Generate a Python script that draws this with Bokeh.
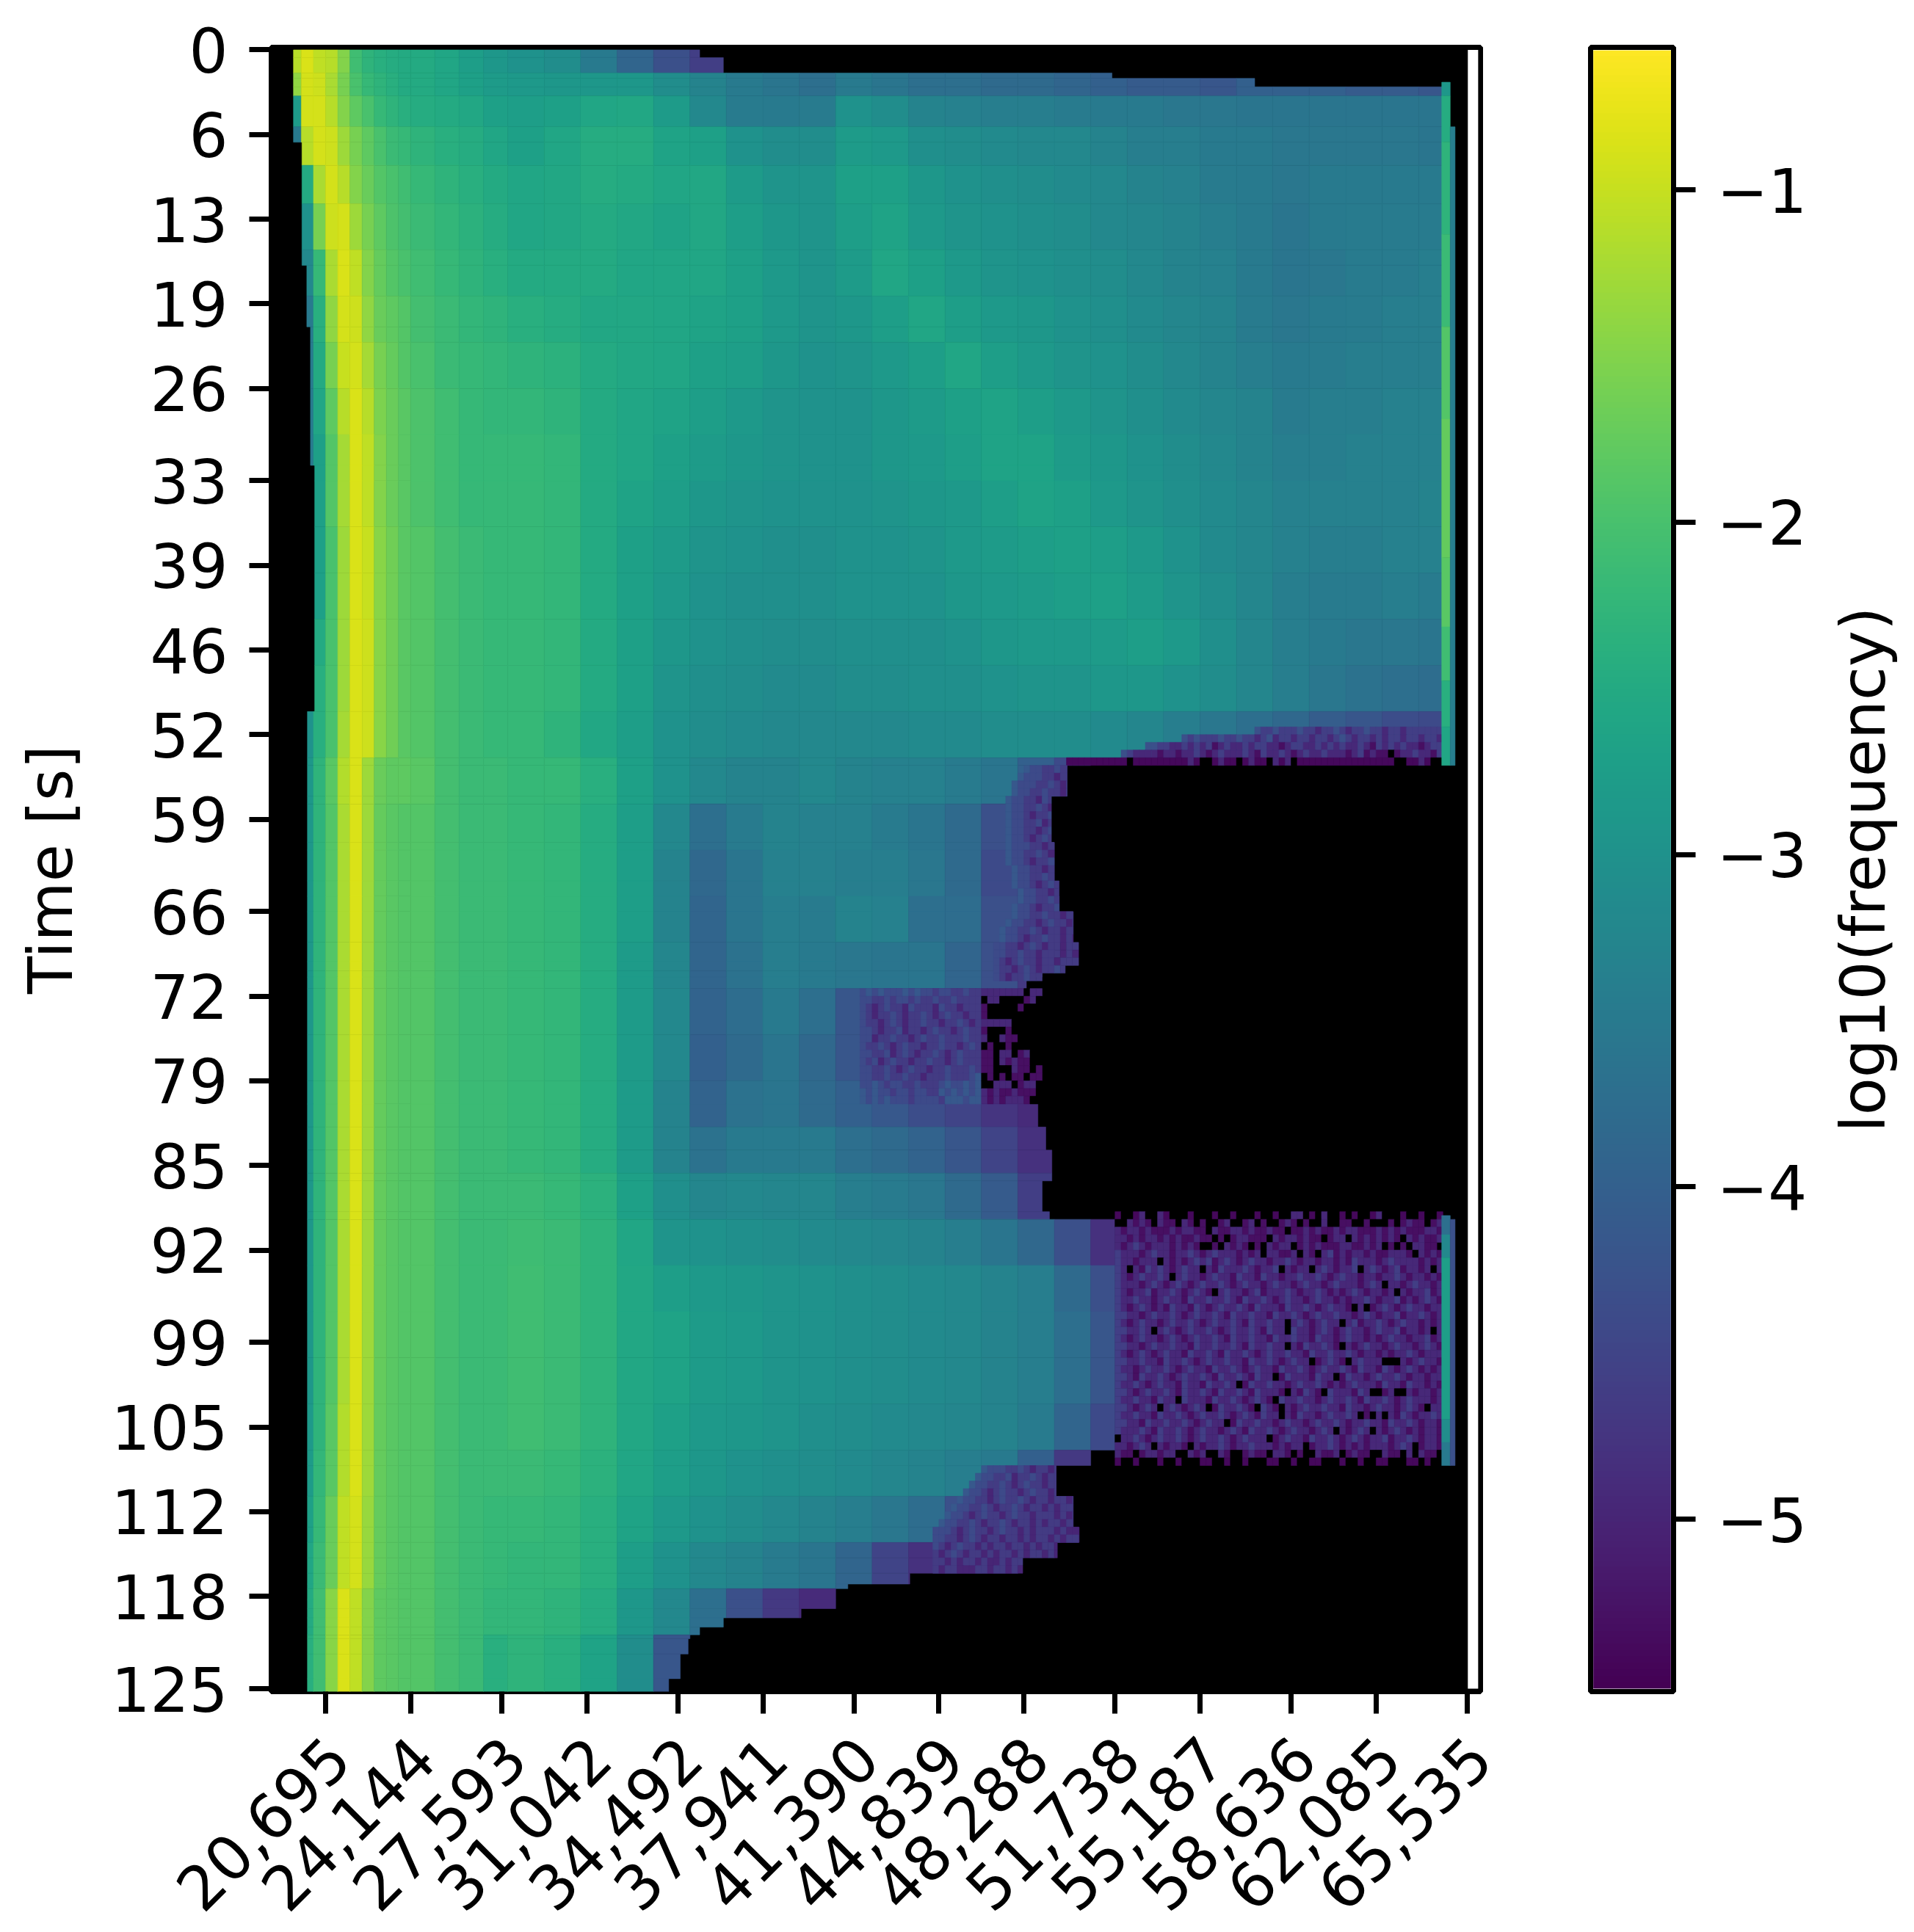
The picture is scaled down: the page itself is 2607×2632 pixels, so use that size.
import math
import numpy as np
from bokeh.plotting import figure
from bokeh.layouts import row
from bokeh.models import Range1d, FixedTicker, LinearColorMapper, ColumnDataSource, LinearAxis
from bokeh.palettes import Viridis256
from bokeh.embed import file_html
from bokeh.resources import INLINE

x_ticks = [0, 14, 29, 43, 58, 72, 87, 101, 115, 130, 144, 159, 173, 188]
x_labels = ["20,695", "24,144", "27,593", "31,042", "34,492", "37,941", "41,390", "44,839",
            "48,288", "51,738", "55,187", "58,636", "62,085", "65,535"]
y_ticks = [0, 11, 22, 33, 44, 56, 67, 78, 89, 100, 112, 123, 134, 145, 156, 168, 179, 190, 201, 213]
y_labels = ["0", "6", "13", "19", "26", "33", "39", "46", "52", "59", "66", "72", "79", "85", "92",
            "99", "105", "112", "118", "125"]
cbar_ticks = [-5, -4, -3, -2, -1]
cbar_labels = ["\u22125", "\u22124", "\u22123", "\u22122", "\u22121"]

col_edges = [-6, -4, -2, 0, 2, 4, 6, 8, 10, 12, 14, 18, 22, 26, 30, 36, 42, 48, 54, 60, 66, 72, 78, 84, 90, 96,
             102, 108, 114, 120, 126, 132, 138, 144, 150, 156, 162, 168, 174, 180, 184]
row_edges = [0, 3, 6, 10, 15, 20, 26, 32, 38, 44, 50, 56, 62, 68, 74, 80, 86, 92, 98, 104, 110, 116, 122, 128,
             134, 140, 146, 152, 158, 164, 170, 176, 182, 188, 194, 200, 206, 214]

log_freq = [
 [-1.1,-0.85,-1.05,-1.1,-1.5,-2.1,-2.3,-2.4,-2.45,-2.5,-2.5,-2.6,-2.75,-2.9,-3.0,-3.1,-3.5,-3.9,-4.3,-4.6],
 [-1.4,-0.9,-0.95,-1.2,-1.6,-2.0,-2.2,-2.3,-2.4,-2.5,-2.5,-2.6,-2.7,-2.8,-2.85,-2.9,-2.9,-2.9,-3.1,-3.3,-3.5,-3.6,-3.7,-3.5,-3.6,-3.7,-3.7,-3.8,-3.8,-3.9,-4.0,-4.1,-4.1,-4.2,-4.0,-4.0,-4.0,-4.1,-4.1,-4.2],
 [-2.8,-0.9,-0.9,-1.1,-1.5,-1.8,-2.0,-2.2,-2.3,-2.4,-2.45,-2.5,-2.55,-2.7,-2.75,-2.7,-2.6,-2.55,-2.8,-3.2,-3.45,-3.5,-3.45,-3.0,-3.1,-3.3,-3.35,-3.4,-3.4,-3.45,-3.5,-3.5,-3.55,-3.55,-3.6,-3.6,-3.6,-3.6,-3.6,-3.6],
 [-3.5,-1.1,-0.9,-0.95,-1.3,-1.6,-1.8,-2.0,-2.15,-2.2,-2.3,-2.4,-2.45,-2.6,-2.7,-2.6,-2.45,-2.45,-2.65,-2.7,-3.0,-3.1,-3.1,-2.8,-2.85,-3.05,-3.1,-3.15,-3.2,-3.2,-3.3,-3.4,-3.4,-3.5,-3.5,-3.55,-3.55,-3.55,-3.55,-3.6],
 [-3.5,-2.5,-1.2,-0.9,-1.1,-1.5,-1.7,-1.9,-2.0,-2.1,-2.2,-2.3,-2.4,-2.5,-2.6,-2.55,-2.45,-2.5,-2.6,-2.55,-2.8,-2.95,-2.95,-2.7,-2.7,-2.9,-3.0,-3.05,-3.1,-3.15,-3.2,-3.3,-3.35,-3.45,-3.5,-3.55,-3.5,-3.5,-3.5,-3.5],
 [-3.5,-3.0,-1.6,-0.95,-0.9,-1.3,-1.6,-1.8,-1.95,-2.05,-2.15,-2.25,-2.35,-2.45,-2.6,-2.55,-2.5,-2.55,-2.65,-2.55,-2.75,-2.9,-2.95,-2.75,-2.65,-2.85,-2.95,-3.0,-3.05,-3.1,-3.2,-3.25,-3.3,-3.4,-3.5,-3.6,-3.5,-3.45,-3.45,-3.45],
 [-3.5,-3.2,-2.2,-1.2,-0.85,-1.05,-1.5,-1.75,-1.9,-2.0,-2.1,-2.2,-2.3,-2.4,-2.5,-2.5,-2.5,-2.6,-2.6,-2.6,-2.7,-2.85,-2.95,-2.8,-2.6,-2.7,-2.85,-2.95,-3.0,-3.05,-3.1,-3.2,-3.3,-3.35,-3.5,-3.6,-3.55,-3.45,-3.45,-3.4],
 [-3.5,-3.5,-2.4,-1.4,-0.9,-0.95,-1.4,-1.7,-1.8,-1.9,-2.05,-2.15,-2.25,-2.3,-2.4,-2.45,-2.55,-2.55,-2.6,-2.65,-2.7,-2.85,-2.95,-2.9,-2.75,-2.6,-2.75,-2.85,-2.9,-3.0,-3.05,-3.15,-3.25,-3.3,-3.45,-3.55,-3.5,-3.45,-3.4,-3.4],
 [-3.5,-3.5,-2.5,-1.6,-1.0,-0.9,-1.25,-1.6,-1.75,-1.9,-2.0,-2.15,-2.2,-2.25,-2.3,-2.35,-2.5,-2.55,-2.6,-2.7,-2.75,-2.9,-3.0,-2.95,-2.85,-2.75,-2.6,-2.75,-2.85,-2.95,-3.0,-3.1,-3.2,-3.3,-3.4,-3.5,-3.45,-3.4,-3.4,-3.4],
 [-3.5,-3.5,-2.6,-1.8,-1.1,-0.85,-1.1,-1.55,-1.7,-1.85,-1.95,-2.1,-2.2,-2.25,-2.25,-2.3,-2.5,-2.6,-2.65,-2.75,-2.85,-2.95,-3.0,-3.0,-2.9,-2.8,-2.7,-2.65,-2.75,-2.85,-2.95,-3.05,-3.15,-3.25,-3.3,-3.45,-3.4,-3.4,-3.35,-3.35],
 [-3.5,-3.5,-2.7,-1.9,-1.25,-0.85,-1.05,-1.5,-1.7,-1.85,-1.95,-2.1,-2.2,-2.2,-2.2,-2.25,-2.5,-2.6,-2.7,-2.8,-2.9,-2.95,-3.0,-3.0,-2.9,-2.85,-2.75,-2.65,-2.65,-2.8,-2.9,-3.0,-3.1,-3.2,-3.3,-3.4,-3.4,-3.35,-3.35,-3.35],
 [-3.5,-3.5,-2.7,-1.9,-1.25,-0.85,-1.05,-1.5,-1.7,-1.85,-1.95,-2.1,-2.2,-2.2,-2.2,-2.25,-2.5,-2.65,-2.75,-2.9,-2.95,-3.0,-3.0,-3.0,-2.95,-2.9,-2.85,-2.75,-2.65,-2.7,-2.85,-2.95,-3.05,-3.15,-3.25,-3.35,-3.35,-3.35,-3.35,-3.3],
 [-3.5,-3.5,-2.7,-2.0,-1.3,-0.85,-1.0,-1.45,-1.65,-1.85,-1.9,-2.05,-2.15,-2.2,-2.2,-2.25,-2.5,-2.7,-2.8,-2.95,-3.0,-3.05,-3.05,-3.0,-3.0,-2.95,-2.85,-2.8,-2.75,-2.7,-2.75,-2.85,-3.0,-3.15,-3.25,-3.35,-3.4,-3.4,-3.35,-3.35],
 [-3.5,-3.5,-2.7,-2.0,-1.3,-0.85,-1.0,-1.45,-1.65,-1.85,-1.9,-2.05,-2.15,-2.2,-2.2,-2.25,-2.5,-2.7,-2.85,-3.0,-3.05,-3.05,-3.05,-3.0,-3.0,-3.0,-2.9,-2.85,-2.8,-2.75,-2.7,-2.8,-2.95,-3.1,-3.25,-3.4,-3.45,-3.45,-3.4,-3.45],
 [-3.5,-3.5,-2.5,-2.0,-1.3,-0.85,-0.95,-1.45,-1.65,-1.85,-1.9,-2.05,-2.15,-2.2,-2.2,-2.25,-2.5,-2.7,-2.9,-3.0,-3.05,-3.1,-3.1,-3.05,-3.05,-3.05,-3.0,-2.9,-2.85,-2.85,-2.8,-2.75,-2.85,-3.05,-3.25,-3.4,-3.5,-3.55,-3.55,-3.6],
 [-3.5,-3.5,-2.4,-2.0,-1.3,-0.85,-0.95,-1.45,-1.65,-1.85,-1.9,-2.05,-2.15,-2.2,-2.2,-2.25,-2.5,-2.7,-2.95,-3.05,-3.1,-3.15,-3.15,-3.1,-3.1,-3.05,-3.05,-3.0,-2.95,-2.95,-2.9,-2.9,-3.0,-3.1,-3.25,-3.4,-3.55,-3.65,-3.7,-3.75],
 [-3.5,-3.0,-2.4,-2.0,-1.25,-0.85,-0.95,-1.45,-1.65,-1.85,-1.9,-2.05,-2.15,-2.2,-2.2,-2.3,-2.55,-2.75,-3.0,-3.1,-3.15,-3.2,-3.2,-3.2,-3.2,-3.15,-3.15,-3.1,-3.1,-3.1,-3.15,-3.25,-3.4,-3.55,-3.7,-3.85,-4.05,-4.2,-4.35,-4.4],
 [-3.0,-2.9,-2.3,-1.85,-1.15,-0.85,-1.3,-1.7,-1.8,-1.8,-1.85,-2.05,-2.15,-2.15,-2.2,-2.2,-2.4,-2.7,-3.0,-3.2,-3.3,-3.3,-3.2,-3.3,-3.35,-3.35,-3.45,-3.6,-4.0,-4.4],
 [-3.0,-2.9,-2.3,-1.9,-1.2,-0.85,-1.3,-1.75,-1.85,-1.9,-1.9,-2.05,-2.15,-2.15,-2.2,-2.25,-2.45,-2.75,-3.2,-3.7,-3.45,-3.3,-3.35,-3.35,-3.45,-3.6,-3.8,-4.3,-4.7],
 [-3.0,-2.9,-2.3,-1.9,-1.2,-0.85,-1.3,-1.75,-1.85,-1.9,-1.9,-2.05,-2.15,-2.15,-2.2,-2.25,-2.45,-2.75,-3.3,-3.85,-3.6,-3.35,-3.35,-3.4,-3.4,-3.55,-3.8,-4.4,-4.75],
 [-3.0,-2.9,-2.3,-1.9,-1.2,-0.85,-1.3,-1.75,-1.85,-1.9,-1.9,-2.05,-2.15,-2.15,-2.2,-2.25,-2.45,-2.75,-3.3,-3.9,-3.6,-3.4,-3.45,-3.3,-3.35,-3.7,-3.75,-4.3,-4.6,-4.7],
 [-3.0,-2.9,-2.3,-1.9,-1.2,-0.85,-1.3,-1.75,-1.85,-1.9,-1.9,-2.05,-2.15,-2.15,-2.2,-2.25,-2.45,-2.8,-3.25,-3.9,-3.65,-3.4,-3.5,-3.55,-3.6,-3.6,-3.9,-4.3,-4.7],
 [-3.0,-2.9,-2.3,-1.9,-1.2,-0.85,-1.3,-1.75,-1.85,-1.9,-1.9,-2.05,-2.15,-2.15,-2.2,-2.25,-2.45,-2.8,-3.2,-3.95,-3.75,-3.5,-3.7,-4.2,-4.65,-4.7,-4.8,-4.9,-4.9],
 [-3.0,-2.9,-2.3,-1.9,-1.2,-0.85,-1.3,-1.75,-1.85,-1.9,-1.9,-2.05,-2.15,-2.15,-2.2,-2.25,-2.45,-2.8,-3.2,-4.0,-3.8,-3.6,-3.85,-4.2,-4.6,-4.75,-4.8,-4.9,-4.9],
 [-3.0,-2.9,-2.3,-1.9,-1.2,-0.85,-1.3,-1.75,-1.85,-1.9,-1.9,-2.05,-2.15,-2.15,-2.2,-2.25,-2.45,-2.8,-3.3,-3.95,-3.65,-3.6,-3.8,-4.0,-4.15,-4.35,-4.5,-4.75,-4.9],
 [-3.0,-2.9,-2.3,-1.9,-1.2,-0.85,-1.3,-1.75,-1.85,-1.9,-1.9,-2.05,-2.15,-2.15,-2.2,-2.25,-2.45,-2.8,-3.3,-3.65,-3.5,-3.5,-3.5,-3.7,-3.8,-3.95,-4.2,-4.5,-4.8],
 [-3.0,-2.9,-2.3,-1.9,-1.2,-0.85,-1.3,-1.75,-1.85,-1.9,-1.9,-2.05,-2.15,-2.15,-2.15,-2.2,-2.35,-2.7,-3.05,-3.25,-3.2,-3.25,-3.25,-3.4,-3.45,-3.55,-3.8,-4.1,-4.6,-4.9],
 [-3.0,-2.9,-2.3,-1.9,-1.2,-0.85,-1.3,-1.75,-1.85,-1.9,-1.9,-2.05,-2.15,-2.15,-2.12,-2.15,-2.3,-2.6,-2.95,-3.0,-3.05,-3.1,-3.15,-3.2,-3.25,-3.3,-3.4,-3.6,-3.85,-4.3,-4.8],
 [-3.0,-2.9,-2.3,-1.9,-1.2,-0.85,-1.3,-1.75,-1.85,-1.9,-1.9,-2.05,-2.15,-2.15,-2.1,-2.15,-2.3,-2.55,-2.75,-2.85,-2.9,-2.95,-3.0,-3.05,-3.1,-3.15,-3.2,-3.3,-3.4,-3.8,-4.3],
 [-3.0,-2.9,-2.3,-1.9,-1.2,-0.85,-1.3,-1.75,-1.85,-1.9,-1.9,-2.05,-2.15,-2.15,-2.1,-2.15,-2.3,-2.55,-2.65,-2.8,-2.85,-2.95,-3.0,-3.05,-3.1,-3.15,-3.2,-3.3,-3.4,-3.7,-4.2],
 [-3.0,-2.9,-2.3,-1.9,-1.2,-0.85,-1.3,-1.75,-1.85,-1.9,-1.9,-2.05,-2.15,-2.15,-2.1,-2.15,-2.3,-2.55,-2.65,-2.8,-2.85,-2.95,-3.0,-3.05,-3.1,-3.15,-3.2,-3.3,-3.4,-3.7,-4.2],
 [-3.0,-2.85,-2.3,-1.85,-1.15,-0.85,-1.3,-1.75,-1.85,-1.9,-1.9,-2.05,-2.15,-2.15,-2.1,-2.15,-2.3,-2.55,-2.7,-2.85,-2.9,-2.95,-3.05,-3.1,-3.15,-3.2,-3.25,-3.3,-3.45,-3.9,-4.4],
 [-3.0,-2.8,-2.25,-1.85,-1.15,-0.85,-1.3,-1.75,-1.85,-1.9,-1.9,-2.05,-2.15,-2.15,-2.15,-2.2,-2.35,-2.6,-2.75,-2.9,-3.0,-3.05,-3.1,-3.15,-3.25,-3.3,-3.4,-3.5,-4.0,-4.7],
 [-3.0,-2.7,-2.2,-1.7,-1.05,-0.9,-1.35,-1.75,-1.85,-1.9,-1.9,-2.05,-2.15,-2.2,-2.2,-2.25,-2.4,-2.65,-2.85,-3.0,-3.1,-3.2,-3.3,-3.4,-3.55,-3.75,-4.3,-4.6,-4.75,-5.0],
 [-3.0,-2.6,-2.15,-1.7,-1.05,-0.9,-1.35,-1.75,-1.85,-1.9,-1.9,-2.05,-2.15,-2.2,-2.25,-2.25,-2.4,-2.75,-3.0,-3.2,-3.3,-3.45,-3.6,-3.9,-4.5,-4.8,-4.9,-5.0],
 [-3.0,-2.5,-2.1,-1.45,-0.85,-1.05,-1.5,-1.8,-1.85,-1.9,-1.9,-2.05,-2.15,-2.25,-2.25,-2.3,-2.45,-2.9,-3.2,-3.7,-4.3,-4.7,-4.9],
 [-3.0,-2.4,-2.1,-1.45,-0.85,-1.05,-1.5,-1.8,-1.85,-1.9,-1.9,-2.05,-2.15,-2.4,-2.3,-2.4,-2.65,-3.1,-4.2],
]

left_rows = [0, 12, 28, 36, 54, 86]
left_edge = [-5.3, -3.9, -3.1, -2.5, -1.8, -3.0]
right_rows = [0, 1, 3, 3.7, 4.8, 93, 97, 103, 108, 112, 116, 118.5, 119.7, 120.5, 122, 137, 140, 143, 147,
              151, 152, 184, 188, 192, 194, 196, 198, 199.4, 201.4, 202.6, 203.8, 205, 206.5, 208.5, 211.7]
right_edge = [61.6, 65.5, 129.5, 153, 186, 122.1, 119.5, 120, 120.8, 123.1, 124, 121.8, 118, 115.4, 108, 117.3, 118.6,
              119.6, 118, 119.2, 130, 120.3, 123.1, 124.1, 120.5, 114.8, 96.2, 86, 85.3, 78.3, 65.5, 61.6, 59.7,
              58.4, 56.5]

strip_a_rows = [4.2, 6, 12, 24, 36, 48, 66, 75, 82, 88, 93, 151.5, 154, 157, 178, 181, 184]
strip_a_vals = [-2.9, -2.45, -2.3, -2.15, -1.9, -1.75, -1.85, -2.1, -2.4, -2.6, None, -3.7, -3.2, -2.75, -3.1, -3.5]
strip_b_rows = [10, 93, 152, 184]
strip_b_vals = [-3.4, None, -4.3]

deep_levels = {"d": -4.3, "a": -4.6, "b": -4.95, "c": -5.3, "e": -5.4}
soft_levels = {"d": -4.15, "a": -4.4, "b": -4.65, "c": -5.0}
mottle = [
 "e  eb  be   e   e  e   e  e  bb e b  e e  eb   e  e  e ",
 "  bcbc bcc bc c  cb  cb c  cbc c  b  cc  c   c cbcc cb",
 "bcbbcbcccbcbbcc bccbbcbccbcc ccbcbccbcbbcccbcbcbcccbbc",
 "bbcbcbbcbcbccbcc c cbbccc bcbbcbcc cbb bcbcbcbc bcbccb",
 "bcbabcbbbcbcbc  c bcbc c bcbb cbcbcccbbccbcb c c bbcc",
 "abbbcbabbcbbabcbabbbcbcb bbccb bc bacbcbbcbccbbbc bcbc",
 "abbcbbb bcbcbabacbabcbabbcbbabcbbcbbcbcabbbcbabbbbcbcb",
 "ab bcababcbabb bcabbbabcbba bcbb babcbba babcbacbbcb b",
 "abcbabbab babbcbabbcabbcabbcbbabbabcbabbcbbcbbabcbbcbc",
 "abbbcbabcbabcbabbabcbabbcbabbcbabbcbabbbcbab bbcbabbcb",
 "abcbbacbbabcbabc babbcbacbbbabcbbabcbcbabcbbcb bcbbacb",
 "abbabbcbabbcabbabbabcabbabcbabbcbabbcbcbbabcbbacbcbabc",
 "abcbabcbcabbcabcbabbabcabbbcabbabcbabbc b cbabcbabbcbb",
 "aabbcbabbabcbabbabcabbabbcabbabcbabbabbcbabcbbacbbabcb",
 "abcbabbcbabbabcbabbabcabbabb babcbabb bacbbabcbabbcbcb",
 "aabbab babcbabbabcbabbabcabb abbcbabcbabbcbabbacbbcb b",
 "abcbabbcbabcbabbabcabbabbcabbabbcabbcbabbcbcbabbcbbacb",
 "aabbcbabbabbcabbabbabcabbabb bcabbabc bcbabbcbabbcbabc",
 "abcbabcbabbcabbabcabbabcbabbabbcabbabbabcbbcbcbbabcbbb",
 "aabbabbcabbabcbabbabbcabbabcbabb cbabc babbb   bcbabbc",
 "abbcbabbabcbabbcabbabcbabbcabbabcbabbabcabbcabcbabcbcb",
 "aabcabbabcbabbabcabbabcabb cabbbcabb cabbcbabbabcbbcbb",
 "abbabcbabbcabbcabbab cabbabbcbabbabcbcbabbbcabbcabbcbc",
 "aabcbabbabcabbabcabbabcabbbc bcabc abbbcab  cb  bcbbcb",
 "abbabbcabb abbbcabbabcbabc abbabbcbabbabcabbabcbabbbcb",
 "aabcbab babcbab cabbabc abc bcbabbabbcabbcbabbcbabc bb",
 "abbabbcabbabcbabbabcbabcabb bcabbcbabbab c b bcabcbbab",
 "aabbcabbabbabcbabb cabbabbcbabbcbabbabcbbabbcabbabcbbc",
 "abbbabcabbabcbabbcbabcabbabcbabbcbab bcbab bcbabcbcbbc",
 " bbabcbabbabcbabbabcbabbb cbabbcabbabcbabcbbacbbabcbbc",
 "bbcbab bcbbc bcbbabcbbabbbcbcbb cbbabcbcbcbbbcbab cbbc",
 "bcc cbbcbb  bcb  bc  cbcc bbc c  bccb cbcc  bcc b bcc ",
 "e  e   e  e   ee  e  e   ee  e  ee   e  e  ee   ee e  ",
]
fringe = [
 "_______________________daadaaadaabaadabaadaabaabaaaaaa",
 "___________dadaaadaadaabadbaabaabaabadabaababaabaabaab",
 "_____ddaabbababacbabbabaabbcbaabbabababbabcabababbcbaa",
 "_dabbbbcbbcbbabcbabbbabcabbabcbabbabbbcbacbcc cbbabbca",
]
edge_row = ["eeeeeeeeee eeeeeeeeebe  ebee ebee beb eeeeeeeeeeeeeeee  eebe  eee"]
notch = [
 "bbbbbbb bb",
 " bb    cb ",
 "c     c   ",
 "c         ",
 "bbbbb     ",
 "c   c     ",
 "b  bcc    ",
 " c  c     ",
 "cc bb cb  ",
 "cc bcbcc  ",
 "cc   bcc c",
 " c c cc cc",
 "  bbb cbb ",
 "bcbccbccc ",
 "bcbcbbbc  ",
]
purple_zone = [
 "adadaaadadaabaabbabb",
 "aabbabaababbabbabbbb",
 "abcbabbcabbbcabbcbbb",
 "abcbbabcbbabcbabbcbb",
 "abbcbabcbbabbcbbabcb",
 "aabcbbacbbcbabbcbabb",
 "aacbbabbcbabbabbbabb",
 "abbabcbabbcbbabbcbab",
 "aabbacbabcbbabcbabbb",
 "abacbabbcbbabbcbabbb",
 "aabbabcbabbcbbabbbab",
 "aabbabbabbcbbbabbbad",
 "aadabaabbabbbadaadad",
 "dadaabaabaabbdadadad",
 "dadadaaabaaaabdddadd",
]
upper_edge = [
 "_____daabbabbcb", "____daaabbcbbcb", "___daaabbabcbbb", "___daabbabbcbcb", "__daabbcabbcbbb",
 "__daabbabcbbcbb", "__daabcbbabcbcb", "__daabbacbbcbbb", "__daabbcbabbcbb", "__daabcbabbcbbb",
 "__daaabbcbbabcb", "__daabbabcbbcbb", "__daabcbbabcbcb", "___daabbcbbcbbb", "___daabbabcbcbb",
 "___daabcbabbcbb", "____daabbcbabcb", "____daabbabcbcb", "___daabcbbabcbc", "___daabbabbcbbb",
 "__daabbcbabbcbc", "_daabbabcbbcbbb", "_daabcbbabbcbcb", "aabbcbabcbbcbbb", "aabbabbcbbbcbcb",
 "abcbabbcbbcbbbb", "abbcbabcbbabcbb", "abcbbabbcbbccbb",
]
lower_edge = [
 "________daaabbabcbbcbbcb", "_______daabbacbbabcbbcbc", "______daabbabcbabbcbbbcb", "_____daabcbabbcbabbcbcbb",
 "____daabbcbabbabcbbcbbcb", "___daabbabcbbabcbbcbcbbb", "__daabcbabbcbabbcbbbcbcb", "_daabbabcbbabcbbcbcbbcbb",
 "aaabcbabbcbabbcbcbbbcbcc", "aabbcbabcbbcbbcbcbbcbcbb", "abcbabbcbcbbcbbcbcbbcbcc", "bcbabcbbcbcbbcbcbbcbcbbb",
 "bbcbcbbcbccbcbbcbcbccbbb", "bcbbcccbbcbbcbcbcc  cbb ", "cb cbcb c  cb  c cb  c  ",
]

mask_blocks = [
 (mottle, 130, 151, False, deep_levels), (fringe, 130, 88, False, deep_levels), (edge_row, 122, 92, False, deep_levels),
 (purple_zone, 88, 122, False, soft_levels), (notch, 108, 122, False, deep_levels),
 (upper_edge, 110, 93, True, soft_levels), (lower_edge, 100, 184, True, soft_levels),
]

cbar_low, cbar_high = -5.51, -0.58
mapper = LinearColorMapper(palette=Viridis256, low=cbar_low, high=cbar_high, nan_color="black")


def step(rows, vals, r):
    out = vals[0]
    for a, b in zip(rows, vals):
        if r >= a:
            out = b
    return out


cuts = sorted(set(row_edges) | set(left_rows) | set(right_rows))
q = dict(l=[], r=[], t=[], b=[], v=[])


def add(l, r, t, b, v):
    q["l"].append(l); q["r"].append(r); q["t"].append(t); q["b"].append(b); q["v"].append(v)


for top, bot in zip(cuts[:-1], cuts[1:]):
    band = step(row_edges[:-1], log_freq, top)
    le = step(left_rows, left_edge, top)
    re = step(right_rows, right_edge, top)
    for i, val in enumerate(band):
        x0, x1 = max(col_edges[i], le), min(col_edges[i + 1], re)
        if x1 > x0:
            add(x0, x1, top, bot, val)

for block, c0, r0, clip, levels in mask_blocks:
    for j, text in enumerate(block):
        limit = step(right_rows, right_edge, r0 + j) if clip else 184
        for i, ch in enumerate(text):
            x0, x1 = c0 + i, min(c0 + i + 1, limit, 184)
            if ch == "_" or x1 <= x0:
                continue
            add(x0, x1, r0 + j, r0 + j + 1, levels.get(ch, float("nan")))

for x0, x1, rows, vals in ((183.8, 185.2, strip_a_rows, strip_a_vals), (185.2, 186.0, strip_b_rows, strip_b_vals)):
    for a, b, v in zip(rows[:-1], rows[1:], vals):
        if v is not None:
            add(x0, x1, a, b, v)

frame_l, frame_t, frame_w, frame_h = 369, 64, 1647, 2240
page_h = 2624
p = figure(width=2100, height=page_h, frame_width=frame_w, frame_height=frame_h,
           x_range=Range1d(-8.95, 190.18), y_range=Range1d(213.38, -0.33),
           output_backend="svg", toolbar_location=None, tools="",
           min_border_left=frame_l, min_border_top=frame_t, min_border_right=84, min_border_bottom=page_h - 64 - 2240,
           background_fill_color="black", outline_line_color="black", outline_line_width=7, outline_line_alpha=1)
p.grid.visible = False
src = ColumnDataSource(q)
col = {"field": "v", "transform": mapper}
p.quad(left="l", right="r", top="t", bottom="b", source=src, fill_color=col, line_color=col, line_width=0.6)
p.quad(left=[x_ticks[-1] + 0.1], right=[189.8], top=[0], bottom=[y_ticks[-1]], fill_color="white", line_color="white", line_width=0)


def style(ax):
    ax.axis_line_color = None
    ax.major_tick_line_color = "black"
    ax.major_tick_line_width = 7
    ax.major_tick_in = 0
    ax.major_tick_out = 30
    ax.minor_tick_line_color = None
    ax.major_label_text_font = "DejaVu Sans"
    ax.major_label_text_font_size = "83.33px"
    ax.major_label_text_color = "black"
    ax.axis_label_text_font = "DejaVu Sans"
    ax.axis_label_text_font_size = "83.33px"
    ax.axis_label_text_font_style = "normal"
    ax.axis_label_text_color = "black"


for ax in (p.xaxis[0], p.yaxis[0]):
    style(ax)
p.xaxis[0].ticker = FixedTicker(ticks=x_ticks)
p.xaxis[0].major_label_overrides = {t: "" for t in x_ticks}
p.xaxis[0].major_label_standoff = 0
p.xaxis[0].major_label_text_font_size = "1px"

label_shift = 2.1
label_pos = [round(t + label_shift, 2) for t in x_ticks]
label_axis = LinearAxis(ticker=FixedTicker(ticks=label_pos), major_label_overrides=dict(zip(label_pos, x_labels)))
style(label_axis)
label_axis.major_tick_line_color = None
label_axis.major_tick_out = 0
label_axis.major_label_orientation = math.pi / 4
label_axis.major_label_standoff = 46
p.add_layout(label_axis, "below")

p.yaxis[0].ticker = FixedTicker(ticks=y_ticks)
p.yaxis[0].major_label_overrides = dict(zip(y_ticks, y_labels))
p.yaxis[0].major_label_standoff = 29
p.yaxis[0].axis_label = "Time [s]"
p.yaxis[0].axis_label_standoff = 30

cb = figure(width=360, height=page_h, frame_width=113, frame_height=frame_h,
            x_range=Range1d(-0.035, 1.035), y_range=Range1d(-5.519, -0.571),
            x_axis_location=None, y_axis_location="right",
            output_backend="svg", toolbar_location=None, tools="",
            min_border_left=66, min_border_top=frame_t, min_border_right=181, min_border_bottom=page_h - 64 - 2240,
            background_fill_color="white", outline_line_color="black", outline_line_width=7, outline_line_alpha=1)
cb.grid.visible = False
ramp = np.linspace(cbar_low, cbar_high, 256).reshape(256, 1)
cb.image(image=[ramp], x=0, y=cbar_low, dw=1, dh=cbar_high - cbar_low, color_mapper=mapper)
style(cb.yaxis[0])
cb.yaxis[0].ticker = FixedTicker(ticks=cbar_ticks)
cb.yaxis[0].major_label_overrides = dict(zip(cbar_ticks, cbar_labels))
cb.yaxis[0].major_label_standoff = 29

# A left-hand axis reads bottom-up, as the colour bar's title does in the reference.
title_fig = figure(width=140, height=page_h, frame_width=2, frame_height=frame_h,
                   x_range=Range1d(0, 1), y_range=Range1d(0, 1), x_axis_location=None,
                   output_backend="svg", toolbar_location=None, tools="",
                   min_border_left=130, min_border_top=frame_t, min_border_right=8, min_border_bottom=page_h - 64 - 2240,
                   background_fill_color=None, outline_line_color=None)
title_fig.grid.visible = False
style(title_fig.yaxis[0])
title_fig.yaxis[0].ticker = FixedTicker(ticks=[])
title_fig.yaxis[0].major_tick_line_color = None
title_fig.yaxis[0].major_tick_out = 0
title_fig.yaxis[0].major_label_standoff = 0
title_fig.yaxis[0].major_label_text_font_size = "1px"
title_fig.yaxis[0].axis_label = "log10(frequency)"
title_fig.yaxis[0].axis_label_standoff = 8

layout = row(p, cb, title_fig, spacing=0)
open("out.html", "w").write(file_html(layout, INLINE))
